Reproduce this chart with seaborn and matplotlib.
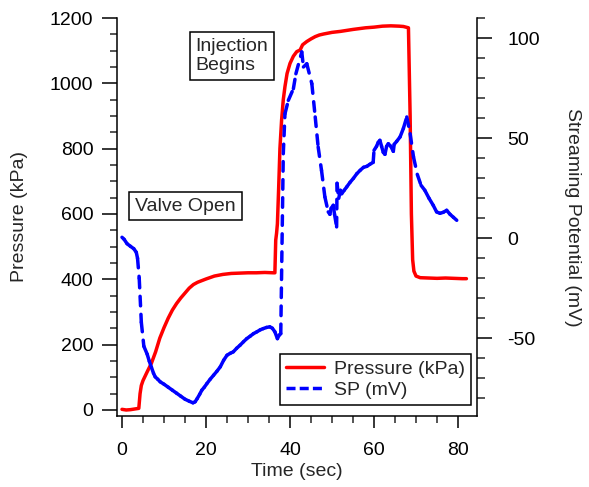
import numpy as np
import pandas as pd
import matplotlib
matplotlib.use("Agg")
import matplotlib.pyplot as plt
import seaborn as sns
from matplotlib.lines import Line2D
from matplotlib.ticker import MultipleLocator

# ---------------- data ----------------
time_p = [0, 1, 2, 3, 4, 4.3, 4.6, 5, 6, 7, 8, 9, 10, 11, 12, 13, 14, 15, 16, 17, 18,
          19, 20, 22, 24, 26, 28, 30, 32, 34, 36, 36.4, 36.6, 36.8, 37.0, 37.3, 37.6,
          38.0, 38.4, 38.8, 39.3, 40, 40.8, 41.6, 42.4, 43.0, 44, 45, 46, 47, 48, 50,
          52, 55, 58, 60, 62, 64, 66, 67, 68.2, 68.6, 68.9, 69.2, 69.5, 70, 71, 73, 75,
          77, 79, 81, 82]
pressure = [2, 0, 1, 3, 5, 50, 75, 90, 117, 143, 178, 220, 252, 281, 306, 326, 343,
            358, 373, 384, 391, 396, 401, 410, 415, 418, 419, 420, 420, 421, 420, 420,
            520, 541, 570, 680, 800, 888, 950, 990, 1030, 1061, 1083, 1097, 1102, 1118,
            1128, 1136, 1143, 1148, 1151, 1156, 1159, 1165, 1170, 1172, 1175, 1176,
            1175, 1174, 1170, 900, 600, 460, 425, 410, 405, 404, 403, 404, 403, 402, 402]

time_sp = [0, 0.5, 1.2, 2, 2.8, 3.4, 3.7, 4.1, 4.6, 5.2, 6.0, 6.5, 7.0,
           7.5, 7.9, 8.5, 9.1, 10, 11, 12, 13, 14, 15, 16, 16.9, 17.4, 17.9, 18.5, 19,
           19.6, 20.2, 21, 21.8, 22.6, 23.4, 24.2, 25, 25.8, 26.5, 27.3, 28.1, 28.9,
           29.7, 30.5, 31.3, 32.1, 32.9, 33.6, 34.4, 35.2, 35.8, 36.4, 37, 37.4, 37.8,
           38.4, 38.8, 39.6, 40.8, 41.4, 42.8, 43.2, 44.0, 45.2, 46.0, 46.7, 47.5,
           48.3, 49.1, 49.5, 49.8, 50.3, 50.6, 51.1, 51.2, 51.6, 52.0,
           52.3, 52.9, 53.5, 54.3, 55.1, 55.9, 56.7, 57.5, 58.3, 59.0, 59.8, 60.0,
           60.6, 61.0, 61.4, 61.8, 62.2, 62.6, 63.0, 63.4, 64.0, 64.6, 64.8, 65.4,
           66.2, 67.0, 67.8, 68.6, 69.4, 70.3, 71.2, 72.1, 73.1, 74.1,
           74.9, 75.7, 76.5, 77.3, 78.1, 78.9, 79.7]
sp = [0.5, -0.5, -2.7, -4, -5.2, -7, -10, -20, -42, -54, -58, -61.5,
      -64.5, -67.5, -69.3, -70.5, -71.8, -73, -74.5, -76, -77.5, -79, -80.5, -81.5,
      -82.3, -81.8, -80.2, -78, -76, -74.5, -72.7, -70.5, -68.5, -66.5, -64.3, -61,
      -58.5, -57.5, -56.8, -55, -53.5, -51.8, -50.2, -49, -47.7, -46.8, -45.8, -45.2,
      -44.6, -44.3, -45, -46.8, -50.2, -48.5, -47.7,
      42.3, 62.3, 69, 74.8, 82.3, 93.2, 85.7, 87.3, 77.3, 60.7, 45.7, 34,
      20.7, 13.2, 12, 15, 16.5, 12, 5.7, 27.5, 20, 24, 22.3, 24, 25.7, 28,
      30, 32.3, 34, 35.5, 36, 37, 38, 44, 46, 48, 49, 46, 43, 42, 46, 47.3, 46, 43.5,
      47, 48.5, 50.7, 55, 60.7, 52.3, 40.7, 32, 26.5, 24, 20, 16.5, 13.2,
      12.5, 13, 14, 12, 10.5, 9]

x_major = [0, 20, 40, 60, 80]
left_major = [0, 200, 400, 600, 800, 1000, 1200]
right_major = [-50, 0, 50, 100]

# ---------------- style ----------------
sns.set_style("ticks")
plt.rcParams['font.family'] = ['Liberation Sans', 'DejaVu Sans']
plt.rcParams['font.size'] = 14

W, H = 589, 487
fig = plt.figure(figsize=(W / 100, H / 100), dpi=100)
ax = fig.add_axes([117 / W, 1 - 416 / H, 360 / W, 398 / H])
ax2 = ax.twinx()

LW = 2.5
df_p = pd.DataFrame({"t": time_p, "P": pressure})
sns.lineplot(data=df_p, x="t", y="P", color="#ff0000", lw=LW, ax=ax, sort=False,
             legend=False, solid_capstyle="round", solid_joinstyle="round")

# SP drawn segment by segment so that the dash pattern restarts at every sample
rows = []
for i in range(len(time_sp) - 1):
    rows.append((time_sp[i], sp[i], i))
    rows.append((time_sp[i + 1], sp[i + 1], i))
df_s = pd.DataFrame(rows, columns=["t", "S", "seg"])
sns.lineplot(data=df_s, x="t", y="S", units="seg", estimator=None, sort=False,
             color="#0000ff", lw=LW, ls=(0, (2.75, 2.45)), dash_capstyle="round",
             ax=ax2, legend=False)

# ---------------- axes ----------------
ax.set_xlim(-1.19, 84.52)
ax.set_ylim(-18.4, 1200)
ax2.set_ylim(-88.9, 110.2)

for a in (ax, ax2):
    for s in a.spines.values():
        s.set_linewidth(1.1)
        s.set_color("black")
ax.spines["top"].set_visible(False)
ax.spines["right"].set_visible(False)
ax2.spines["top"].set_visible(False)
ax2.spines["left"].set_visible(False)
ax2.spines["bottom"].set_visible(False)

ax.set_xticks(x_major)
ax.xaxis.set_minor_locator(MultipleLocator(5))
ax.set_yticks(left_major)
ax.yaxis.set_minor_locator(MultipleLocator(50))
ax2.set_yticks(right_major)
ax2.yaxis.set_minor_locator(MultipleLocator(10))

ax.tick_params(axis="x", which="major", direction="out", length=8.6, width=1.1,
               pad=10, labelsize=14, colors="black")
ax.tick_params(axis="x", which="minor", direction="out", length=5, width=1.1)
ax.tick_params(axis="y", which="major", direction="out", length=11, width=1.1,
               pad=6, labelsize=14, colors="black")
ax.tick_params(axis="y", which="minor", direction="out", length=5.2, width=1.1)
ax2.tick_params(axis="y", which="major", direction="out", length=11, width=1.1,
                pad=11, labelsize=14, colors="black")
ax2.tick_params(axis="y", which="minor", direction="out", length=5.8, width=1.1)
ax2.set_yticklabels([str(v) for v in right_major])

ax.set_xlabel("Time (sec)", fontsize=14, va="center")
ax.xaxis.set_label_coords(0.5, (416 - 472) / 398)
ax.set_ylabel("Pressure (kPa)", fontsize=14, va="center", ha="center")
ax.yaxis.set_label_coords((20 - 117) / 360, 0.5)
ax2.set_ylabel("Streaming Potential (mV)", fontsize=14, rotation=270,
               va="center", ha="center")
ax2.yaxis.set_label_coords((573 - 117) / 360, 0.5)

# ---------------- annotations ----------------
box = dict(boxstyle="square,pad=0.3", facecolor="white", edgecolor="black", lw=1.1)
ax.text(15.1, 624, "Valve Open", fontsize=14, ha="center", va="center", bbox=box)
ax.text(26.2, 1083, "Injection\nBegins", fontsize=14, ha="center", va="center",
        multialignment="left", linespacing=1.15, bbox=box)

# ---------------- legend ----------------
handles = [Line2D([], [], color="#ff0000", lw=LW),
           Line2D([], [], color="#0000ff", lw=LW, ls=(0, (2.6, 1.2)))]
leg = ax2.legend(handles, ["Pressure (kPa)", "SP (mV)"], loc="lower right",
                 bbox_to_anchor=(471 / W, 1 - 405 / H),
                 bbox_transform=fig.transFigure, fontsize=14, frameon=True,
                 fancybox=False, framealpha=1, edgecolor="black", borderaxespad=0,
                 handlelength=2.0, handletextpad=0.5, labelspacing=0.2,
                 borderpad=0.3)
leg.get_frame().set_linewidth(1.1)

fig.savefig("out.png", dpi=100)
